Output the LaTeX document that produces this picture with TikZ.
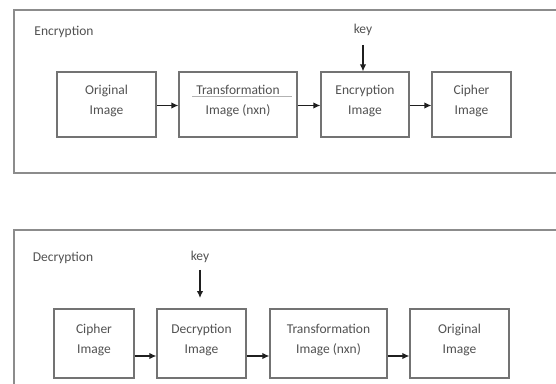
\documentclass[tikz,border=0pt]{standalone}
\usepackage{fontspec}
\setmainfont{Carlito}
\usetikzlibrary{arrows.meta}
\definecolor{framecol}{gray}{0.55}
\definecolor{boxcol}{gray}{0.45}
\definecolor{txtcol}{gray}{0.32}
\definecolor{arrcol}{gray}{0.12}
\begin{document}
\begin{tikzpicture}[x=1pt,y=-1pt,
  outerframe/.style={draw=framecol,line width=1.6pt},
  stepbox/.style={draw=boxcol,line width=1.3pt,rectangle,inner sep=0pt,align=center,
     text=txtcol,text depth=9pt,font=\fontsize{13.5}{20}\selectfont},
  lbl/.style={text=txtcol,inner sep=1pt,font=\fontsize{13.5}{15}\selectfont},
  arr/.style={draw=arrcol,line width=1.3pt,-{Latex[length=7pt,width=6.5pt]}}]
\useasboundingbox (0,0) rectangle (556,383);
\fill[white] (0,0) rectangle (556,383);
\clip (0,0) rectangle (556,383);
% outer frames
\draw[outerframe] (14,10) rectangle (570,173);
\draw[outerframe] (14,230) rectangle (570,400);
% labels
\node[lbl] (enc) at (64,32) {Encryption};
\node[lbl] (dec) at (63,258) {Decryption};
\node[lbl] (key1) at (363,30) {key};
\node[lbl] (key2) at (200,257) {key};
% top row
\node[stepbox,minimum width=99pt,minimum height=65pt] (o1) at (106.5,104.5) {Original\\Image};
\node[stepbox,minimum width=118pt,minimum height=65pt] (t1) at (238,104.5) {Transformation\\Image (nxn)};
\node[stepbox,minimum width=88pt,minimum height=65pt] (e1) at (365,104.5) {Encryption\\Image};
\node[stepbox,minimum width=79pt,minimum height=65pt] (c1) at (471.5,104.5) {Cipher\\Image};
\draw[gray!60,line width=0.6pt] ([xshift=-46pt,yshift=8pt]t1.center) -- ([xshift=54pt,yshift=8pt]t1.center);
\draw[arr] ([yshift=-1pt]o1.east) -- ([yshift=-1pt]t1.west);
\draw[arr] ([yshift=-1pt]t1.east) -- ([yshift=-1pt]e1.west);
\draw[arr] ([yshift=-1pt]e1.east) -- ([yshift=-1pt]c1.west);
\draw[arr] (key1.south) ++(0,8) -- (e1.north -| key1.south);
% bottom row
\node[stepbox,minimum width=80pt,minimum height=69pt] (c2) at (94,343.5) {Cipher\\Image};
\node[stepbox,minimum width=89pt,minimum height=69pt] (d2) at (201.5,343.5) {Decryption\\Image};
\node[stepbox,minimum width=117pt,minimum height=69pt] (t2) at (328.5,343.5) {Transformation\\Image (nxn)};
\node[stepbox,minimum width=99pt,minimum height=69pt] (o2) at (459.5,343.5) {Original\\Image};
\coordinate (k2end) at (200,298);
\draw[arr] (key2.south) ++(0,6) -- (k2end);
\draw[arr] ([yshift=-12.5pt]c2.east) -- ([yshift=-12.5pt]d2.west);
\draw[arr] ([yshift=-12.5pt]d2.east) -- ([yshift=-12.5pt]t2.west);
\draw[arr] ([yshift=-12.5pt]t2.east) -- ([yshift=-12.5pt]o2.west);
\end{tikzpicture}
\end{document}
